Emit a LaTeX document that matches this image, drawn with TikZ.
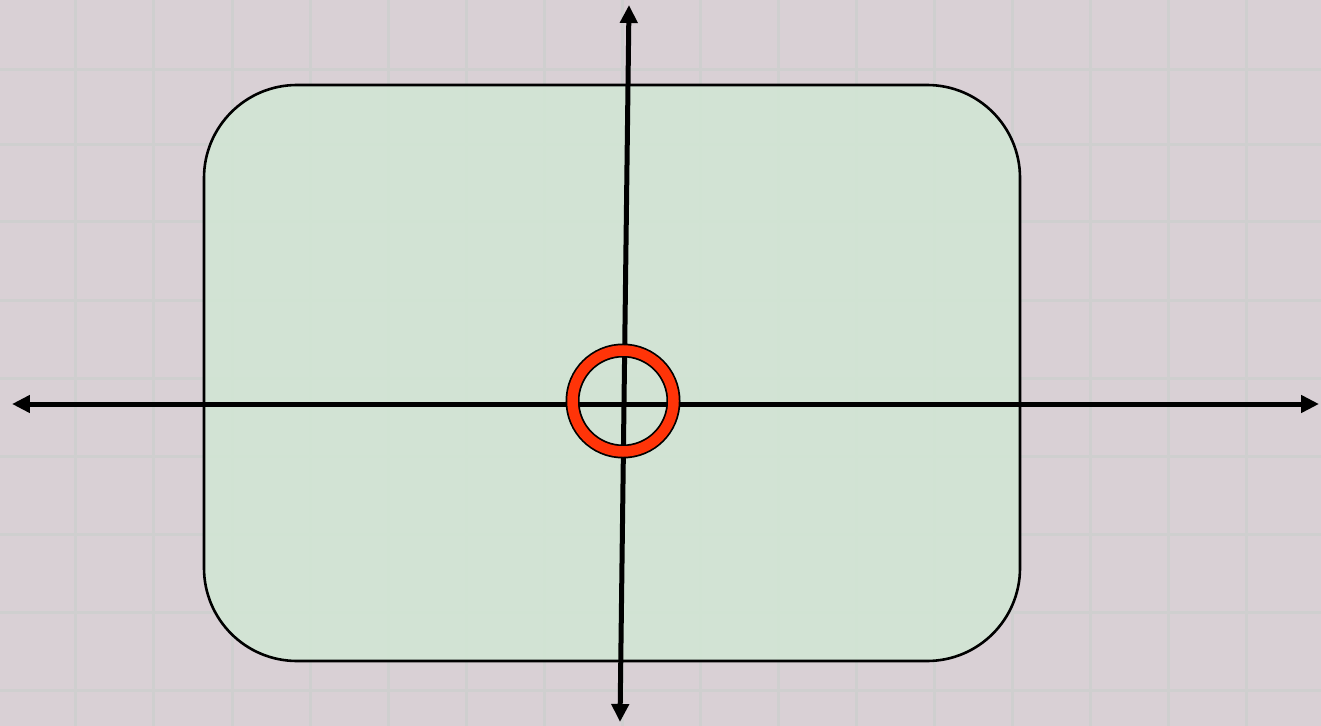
\documentclass[tikz,border=0pt]{standalone}
\usetikzlibrary{arrows.meta}
\definecolor{bgpink}{RGB}{217,208,213}
\definecolor{gridc}{RGB}{207,207,207}
\definecolor{panelgreen}{RGB}{210,230,212}
\definecolor{ringred}{RGB}{255,52,8}
\tikzset{
  axis/.style={line width=5*0.02cm, black, {Triangle[length=0.36cm,width=0.34cm]}-{Triangle[length=0.36cm,width=0.34cm]}},
  panel/.style={draw=black, line width=2.6*0.02cm, fill=panelgreen, fill opacity=0.88, rounded corners=93*0.02cm, inner sep=0pt, minimum width=816*0.02cm, minimum height=576*0.02cm},
  gridline/.style={gridc, line width=3*0.02cm}
}
\begin{document}
\begin{tikzpicture}[x=0.02cm,y=-0.02cm]
\fill[bgpink] (0,0) rectangle (1321,726);
\useasboundingbox (0,0) rectangle (1321,726);
\foreach \gx in {75,153,232,310,388,466,544,622,700,778,856,934,1012,1090,1168,1246} {
  \draw[gridline] (\gx,0) -- (\gx,726);
}
\foreach \gy in {70,145,222,300,378,456,534,612,690} {
  \draw[gridline] (0,\gy) -- (1321,\gy);
}
\node[panel] (panel) at (612,373) {};
\coordinate (left) at (12,404);
\coordinate (right) at (1319,404);
\coordinate (top) at (629,5);
\coordinate (bottom) at (620,722);
\draw[axis] (left) -- (right);
\draw[axis] (top) -- (bottom);
\node[circle, draw=black, line width=14*0.02cm, minimum size=101*0.02cm, inner sep=0pt] (ring) at (623,401) {};
\draw[ringred, line width=10.5*0.02cm] (ring.center) circle[radius=50.5*0.02cm];
\end{tikzpicture}
\end{document}
